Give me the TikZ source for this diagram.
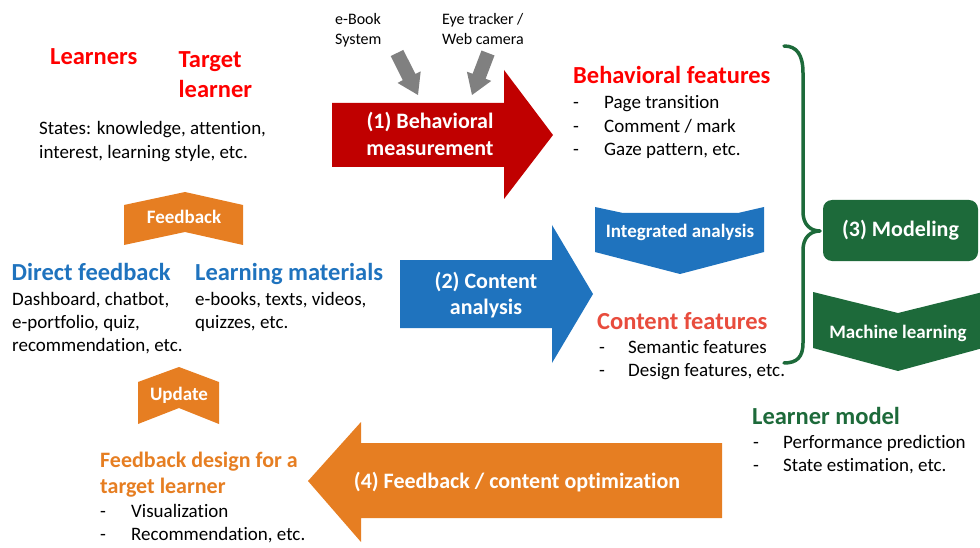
\documentclass[tikz,border=0pt]{standalone}
\usepackage{fontspec}
\setmainfont{Carlito}[Ligatures=NoCommon]

\definecolor{hred}{RGB}{255,0,0}
\definecolor{dred}{RGB}{192,0,0}
\definecolor{cred}{RGB}{232,76,61}
\definecolor{mblue}{RGB}{31,115,190}
\definecolor{morange}{RGB}{230,126,34}
\definecolor{dgreen}{RGB}{29,106,58}
\definecolor{mgray}{RGB}{128,128,128}

% one left-aligned block of lines, first baseline on the node's base
\newcommand{\leftlines}[1]{\begin{tabular}[t]{@{}l@{}}#1\end{tabular}}
\newcommand{\midlines}[1]{\begin{tabular}[t]{@{}c@{}}#1\end{tabular}}
% list entry: dash, then the text after a fixed indent
\newcommand{\dashitem}[2][31pt]{\makebox[#1][l]{-}#2}

\tikzset{
  heading/.style={anchor=base west, inner sep=0pt, font=\fontsize{24.5}{30}\selectfont\bfseries},
  bodytext/.style={anchor=base west, inner sep=0pt, font=\fontsize{19}{23.3}\selectfont},
  smalltext/.style={anchor=base west, inner sep=0pt, font=\fontsize{16}{20}\selectfont},
  arrowlabel/.style={anchor=base, inner sep=0pt, text=white, font=\fontsize{22}{26.4}\selectfont\bfseries},
  chevlabel/.style={anchor=base, inner sep=0pt, text=white, font=\fontsize{19}{23}\selectfont\bfseries},
  bracepath/.style={draw=dgreen, line width=3.5pt, line cap=round, line join=round},
}

\begin{document}
\begin{tikzpicture}[x=1pt,y=-1pt]
\useasboundingbox (0,0) rectangle (980,548);

% ---- big block arrows ----
\fill[dred] (332,103) -- (504,103) -- (504,70) -- (553,135) -- (504,199)
  -- (504,167) -- (332,167) -- cycle;
\fill[mblue] (400,260) -- (552,260) -- (552,225) -- (593,294) -- (552,363)
  -- (552,328) -- (400,328) -- cycle;
\fill[morange] (722,443) -- (361,443) -- (361,422) -- (308,481) -- (361,542)
  -- (361,518) -- (722,518) -- cycle;

% ---- chevrons ----
\fill[morange] (124,205) -- (185,192) -- (243,205) -- (243,245) -- (185,232)
  -- (124,245) -- cycle;
\fill[morange] (138,382) -- (179,367) -- (219,382) -- (219,424) -- (179,408)
  -- (138,424) -- cycle;
\fill[mblue] (595,207) -- (623,213) -- (738,213) -- (764,207) -- (764,252)
  -- (680,274) -- (595,252) -- cycle;
\fill[dgreen] (813,292) -- (898,313) -- (983,292) -- (983,348) -- (898,371)
  -- (813,348) -- cycle;

% ---- gray input arrows ----
\fill[mgray] (390.7,56.1) -- (402.8,80.2) -- (397.5,82.9) -- (418,95)
  -- (420.7,71.3) -- (415.4,74.0) -- (403.3,49.9) -- cycle;
\fill[mgray] (494.5,55.5) -- (485.6,78.8) -- (491.3,80.9) -- (472,95)
  -- (466.9,71.7) -- (472.6,73.8) -- (481.5,50.5) -- cycle;

% ---- modeling box and brace ----
\node[fill=dgreen, rounded corners=9pt, minimum width=155pt, minimum height=61pt,
  inner sep=0pt, text=white, font=\fontsize{22}{26.4}\selectfont\bfseries]
  (modeling) at (900.5,230.5) {(3) Modeling};
\path[bracepath] (784,46) .. controls (797,46) and (803,55) .. (803,73)
  -- (803,212) .. controls (803,224) and (810,231) .. (820,231)
  .. controls (810,231) and (803,238) .. (803,250)
  -- (803,343) .. controls (803,357) and (797,363) .. (784,363);

% ---- labels on arrows and chevrons ----
\node[arrowlabel] (behav) at (430,129) {\midlines{(1) Behavioral\\measurement}};
\node[arrowlabel] (content) at (486,288) {\midlines{(2) Content\\analysis}};
\node[arrowlabel] (optim) at (517,488) {(4) Feedback / content optimization};
\node[chevlabel] (fbchev) at (184,224) {Feedback};
\node[chevlabel] (upchev) at (179,400) {Update};
\node[chevlabel] (integ) at (680,237) {Integrated analysis};
\node[chevlabel] (mlearn) at (898,338) {Machine learning};

% ---- input sources ----
\node[smalltext] (ebook) at (335,25) {\leftlines{e-Book\\System}};
\node[smalltext] (eye) at (442,25) {\leftlines{Eye tracker /\\Web camera}};

% ---- learners ----
\node[heading, text=hred] (learners) at (50,65) {Learners};
\node[heading, text=hred] (target) at (178.5,68) {\leftlines{Target\\learner}};
\node[bodytext] (states) at (39,135)
  {\leftlines{States: knowledge, attention,\\interest, learning style, etc.}};

% ---- feedback and materials ----
\node[heading, text=mblue] (direct) at (11.5,280) {Direct feedback};
\node[bodytext] (directlist) at (12,305)
  {\leftlines{Dashboard, chatbot,\\e-portfolio, quiz,\\recommendation, etc.}};
\node[heading, text=mblue] (materials) at (195,280) {Learning materials};
\node[bodytext] (materiallist) at (195,305)
  {\leftlines{e-books, texts, videos,\\quizzes, etc.}};

% ---- features ----
\node[heading, text=hred] (bfeat) at (573,84) {Behavioral features};
\node[bodytext] (bfeatlist) at (573,109)
  {\leftlines{\dashitem{Page transition}\\\dashitem{Comment / mark}\\\dashitem{Gaze pattern, etc.}}};
\node[heading, text=cred] (cfeat) at (597,329) {Content features};
\node[bodytext] (cfeatlist) at (599,353)
  {\leftlines{\dashitem[29pt]{Semantic features}\\\dashitem[29pt]{Design features, etc.}}};

% ---- learner model ----
\node[heading, text=dgreen] (lmodel) at (752,424) {Learner model};
\node[bodytext] (lmodellist) at (753,448)
  {\leftlines{\dashitem[30pt]{Performance prediction}\\\dashitem[30pt]{State estimation, etc.}}};

% ---- feedback design ----
\node[anchor=base west, inner sep=0pt, text=morange,
  font=\fontsize{22}{26}\selectfont\bfseries] (fdesign) at (100,467)
  {\leftlines{Feedback design for a\\target learner}};
\node[bodytext] (fdesignlist) at (100,517)
  {\leftlines{\dashitem{Visualization}\\\dashitem{Recommendation, etc.}}};
\end{tikzpicture}
\end{document}
